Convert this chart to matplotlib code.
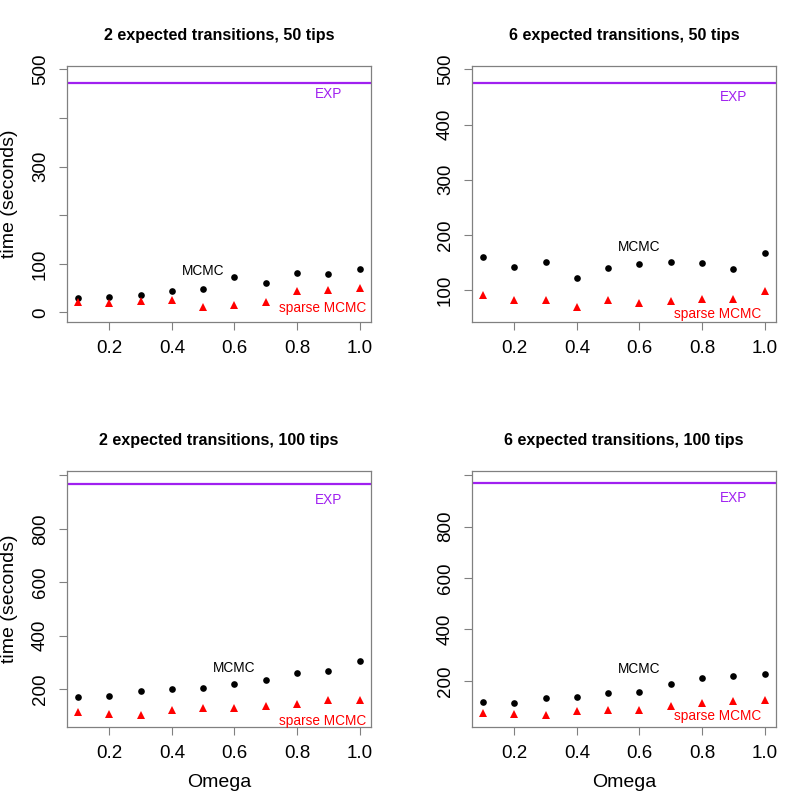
import numpy as np
import matplotlib
matplotlib.use('Agg')
import matplotlib.pyplot as plt

plt.rcParams['font.family'] = ['Liberation Sans', 'DejaVu Sans']

# Data
omega = [0.1, 0.2, 0.3, 0.4, 0.5, 0.6, 0.7, 0.8, 0.9, 1.0]

titles = ['2 expected transitions, 50 tips', '6 expected transitions, 50 tips',
          '2 expected transitions, 100 tips', '6 expected transitions, 100 tips']

mcmc_2_50 = [30, 31.5, 35.5, 45, 48.5, 72.5, 61.5, 82, 80, 89]
sparse_2_50 = [22.5, 19, 23, 26.5, 11, 15, 22.5, 44.5, 46, 50.5]
mcmc_6_50 = [160.5, 142.5, 150, 122, 140, 147, 151.5, 148.5, 138, 167]
sparse_6_50 = [91, 82.5, 81.5, 70, 81.5, 76, 79.5, 84.5, 84, 97.5]
mcmc_2_100 = [171, 174, 195, 200, 204, 220, 235, 260, 267, 306]
sparse_2_100 = [114, 109, 105, 124, 129, 131, 137, 144, 159, 161]
mcmc_6_100 = [117, 114, 135, 139, 152, 157, 190, 210, 218, 226]
sparse_6_100 = [75, 71, 69, 82, 88, 88, 103, 114, 122, 126]

exp_time = [473, 475, 966, 970]

mcmc = [mcmc_2_50, mcmc_6_50, mcmc_2_100, mcmc_6_100]
sparse = [sparse_2_50, sparse_6_50, sparse_2_100, sparse_6_100]

yticks = [[0, 100, 200, 300, 400, 500], [100, 200, 300, 400, 500],
          [200, 400, 600, 800, 1000], [200, 400, 600, 800, 1000]]
yticklabels = [['0', '100', '', '300', '', '500'], ['100', '200', '300', '400', '500'],
               ['200', '400', '600', '800', ''], ['200', '400', '600', '800', '']]

# layout
ylims = [(-19, 507), (42.6, 506), (60, 1016), (22, 1016)]
mcmc_lab = [(0.5, 85), (0.6, 178), (0.6, 279), (0.6, 245)]
sparse_lab = [(0.88, 10), (0.85, 56), (0.88, 80), (0.85, 64)]
exp_lab = [(0.9, 449), (0.9, 449), (0.9, 907), (0.9, 912)]
lefts = [0.0823, 0.5823, 0.0823, 0.5823]
bottoms = [0.6028, 0.6028, 0.1028, 0.1028]

gray = '#808080'
purple = '#A020F0'

fig = plt.figure(figsize=[8.1, 8.1], dpi=100)

for k in range(4):
    ax = fig.add_axes([lefts[k], bottoms[k], 0.3757, 0.3157])
    ax.axhline(exp_time[k], color=purple, lw=1.6)
    ax.plot(omega, mcmc[k], 'o', c='black', ms=4.8, mew=0)
    ax.plot(omega, sparse[k], '^', c='red', ms=6.3, mew=0)
    ax.text(*mcmc_lab[k], 'MCMC', color='black', fontsize=9.8, ha='center', va='center')
    ax.text(*sparse_lab[k], 'sparse MCMC', color='red', fontsize=9.8, ha='center', va='center')
    ax.text(*exp_lab[k], 'EXP', color=purple, fontsize=9.8, ha='center', va='center')

    ax.set_xlim(0.064, 1.036)
    ax.set_ylim(*ylims[k])
    ax.set_xticks([0.2, 0.4, 0.6, 0.8, 1.0])
    ax.set_xticklabels(['0.2', '0.4', '0.6', '0.8', '1.0'])
    ax.set_yticks(yticks[k])
    ax.set_yticklabels(yticklabels[k], rotation=90, va='center')
    ax.tick_params(direction='out', length=5.8, width=0.8, color=gray, pad=7,
                   labelsize=13.5)
    for s in ax.spines.values():
        s.set_color(gray)
        s.set_linewidth(0.9)
    ax.set_title(titles[k], fontsize=11.6, fontweight='bold', pad=19)
    if k % 2 == 0:
        ax.set_ylabel('time (seconds)', fontsize=14, labelpad=10)
    if k >= 2:
        ax.set_xlabel('Omega', fontsize=14, labelpad=9)

plt.savefig('out.png', dpi=100, facecolor='w')
